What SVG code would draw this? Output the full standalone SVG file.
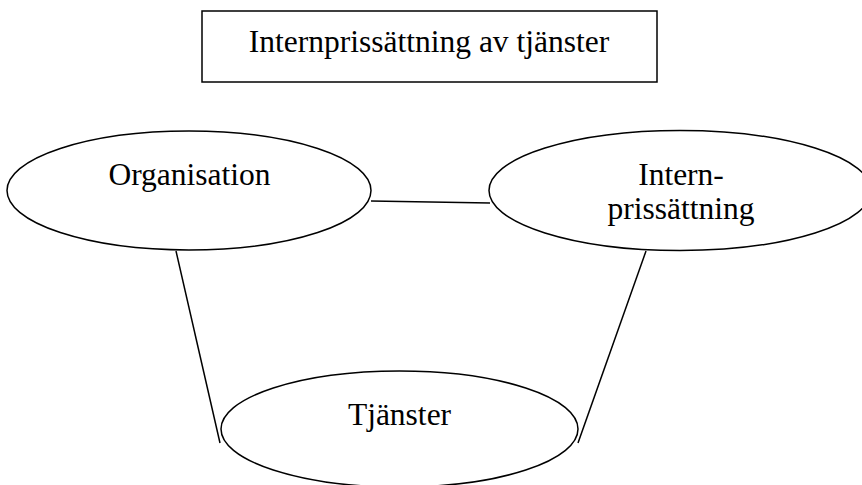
<svg xmlns="http://www.w3.org/2000/svg" width="862" height="485" viewBox="0 0 862 485">
  <style>
    .shape { fill: #ffffff; stroke: #000000; stroke-width: 1.5; }
    .link { fill: none; stroke: #000000; stroke-width: 1.5; }
    .label { font-family: "Liberation Serif", "Times New Roman", serif; font-size: 31.5px; fill: #000000; text-anchor: middle; }
  </style>
  <rect width="862" height="485" fill="#ffffff"/>

  <!-- connectors -->
  <g id="connectors">
    <line class="link" x1="371" y1="201" x2="490" y2="203"/>
    <line class="link" x1="176" y1="251" x2="220" y2="443"/>
    <line class="link" x1="646" y1="251" x2="578" y2="443"/>
  </g>

  <g id="title">
    <rect class="shape" x="202" y="11" width="455" height="71"/>
    <text class="label" x="429" y="52">Internprissättning av tjänster</text>
  </g>

  <g id="organisation">
    <ellipse class="shape" cx="189" cy="190.5" rx="182" ry="59.5"/>
    <text class="label" x="189.5" y="185">Organisation</text>
  </g>

  <g id="internprissattning">
    <ellipse class="shape" cx="680" cy="190.5" rx="191" ry="60"/>
    <text class="label" x="681" y="185">Intern-</text>
    <text class="label" x="681" y="219">prissättning</text>
  </g>

  <g id="tjanster">
    <ellipse class="shape" cx="399.5" cy="429" rx="178.5" ry="58"/>
    <text class="label" x="399.5" y="425">Tjänster</text>
  </g>
</svg>
